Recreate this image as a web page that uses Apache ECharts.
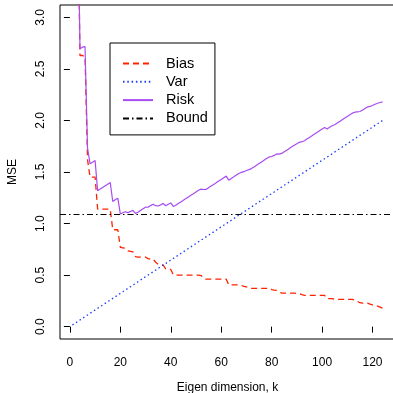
<!DOCTYPE html>
<html>
<head>
<meta charset="utf-8">
<script src="https://cdn.jsdelivr.net/npm/echarts@6/dist/echarts.min.js"></script>
<style>
  html, body { margin: 0; padding: 0; background: #fff; }
  #chart { width: 393px; height: 393px; }
</style>
</head>
<body>
<div id="chart"></div>
<script>
// Eigen dimension k = 1..124
const dims = [];
for (let k = 1; k <= 124; k++) dims.push(k);

const bias = [
  7.50, 5.60, 4.35, 2.63, 2.63, 2.62, 1.62, 1.45, 1.45, 1.45,
  1.14, 1.14, 1.14, 1.14, 1.14, 1.14, 0.94, 0.94, 0.94, 0.77,
  0.765, 0.76, 0.735, 0.73, 0.725, 0.68, 0.675, 0.675, 0.675, 0.675,
  0.658, 0.658, 0.655, 0.625, 0.605, 0.60, 0.598, 0.56, 0.558, 0.555,
  0.505, 0.50, 0.50, 0.50, 0.50, 0.50, 0.50, 0.50, 0.50, 0.50,
  0.50, 0.495, 0.475, 0.46, 0.46, 0.46, 0.46, 0.46, 0.46, 0.46,
  0.46, 0.46, 0.405, 0.405, 0.405, 0.405, 0.405, 0.40, 0.39, 0.385,
  0.378, 0.372, 0.372, 0.372, 0.372, 0.372, 0.372, 0.372, 0.372, 0.36,
  0.355, 0.352, 0.335, 0.325, 0.325, 0.325, 0.325, 0.325, 0.325, 0.322,
  0.32, 0.31, 0.303, 0.303, 0.303, 0.303, 0.303, 0.303, 0.303, 0.303,
  0.303, 0.272, 0.272, 0.272, 0.265, 0.265, 0.265, 0.265, 0.265, 0.265,
  0.265, 0.265, 0.257, 0.245, 0.232, 0.228, 0.228, 0.228, 0.218, 0.21,
  0.205, 0.199, 0.19, 0.18
];

const variance = [
  0.016, 0.032, 0.048, 0.065, 0.081, 0.097, 0.113, 0.129, 0.145, 0.161,
  0.177, 0.194, 0.210, 0.226, 0.242, 0.258, 0.274, 0.290, 0.306, 0.323,
  0.339, 0.355, 0.371, 0.387, 0.403, 0.419, 0.435, 0.452, 0.468, 0.484,
  0.500, 0.516, 0.532, 0.548, 0.565, 0.581, 0.597, 0.613, 0.629, 0.645,
  0.661, 0.677, 0.694, 0.710, 0.726, 0.742, 0.758, 0.774, 0.790, 0.806,
  0.823, 0.839, 0.855, 0.871, 0.887, 0.903, 0.919, 0.935, 0.952, 0.968,
  0.984, 1.000, 1.016, 1.032, 1.048, 1.065, 1.081, 1.097, 1.113, 1.129,
  1.145, 1.161, 1.177, 1.194, 1.210, 1.226, 1.242, 1.258, 1.274, 1.290,
  1.306, 1.323, 1.339, 1.355, 1.371, 1.387, 1.403, 1.419, 1.435, 1.452,
  1.468, 1.484, 1.500, 1.516, 1.532, 1.548, 1.565, 1.581, 1.597, 1.613,
  1.629, 1.645, 1.661, 1.677, 1.694, 1.710, 1.726, 1.742, 1.758, 1.774,
  1.790, 1.806, 1.823, 1.839, 1.855, 1.871, 1.887, 1.903, 1.919, 1.935,
  1.952, 1.968, 1.984, 2.000
];

const risk = [
  7.516, 5.632, 4.398, 2.695, 2.711, 2.717, 1.733, 1.579, 1.595, 1.611,
  1.317, 1.334, 1.350, 1.366, 1.382, 1.398, 1.214, 1.230, 1.246, 1.093,
  1.104, 1.115, 1.106, 1.117, 1.128, 1.099, 1.110, 1.127, 1.143, 1.159,
  1.158, 1.174, 1.187, 1.173, 1.170, 1.181, 1.195, 1.173, 1.187, 1.200,
  1.166, 1.177, 1.194, 1.210, 1.226, 1.242, 1.258, 1.274, 1.290, 1.306,
  1.323, 1.334, 1.330, 1.331, 1.347, 1.363, 1.379, 1.395, 1.412, 1.428,
  1.444, 1.460, 1.421, 1.437, 1.453, 1.470, 1.486, 1.497, 1.503, 1.514,
  1.523, 1.533, 1.549, 1.566, 1.582, 1.598, 1.614, 1.630, 1.646, 1.650,
  1.661, 1.675, 1.674, 1.680, 1.696, 1.712, 1.728, 1.744, 1.760, 1.774,
  1.788, 1.794, 1.803, 1.819, 1.835, 1.851, 1.868, 1.884, 1.900, 1.916,
  1.932, 1.917, 1.933, 1.949, 1.959, 1.975, 1.991, 2.007, 2.023, 2.039,
  2.055, 2.071, 2.080, 2.084, 2.087, 2.099, 2.115, 2.131, 2.137, 2.145,
  2.157, 2.167, 2.174, 2.180
];

const bound = 1.09;

const xTicks = [0, 20, 40, 60, 80, 100, 120];
const yTicks = [0, 0.5, 1, 1.5, 2, 2.5, 3];

const pairs = (ys) => dims.map((k, i) => [k, ys[i]]);

const FONT = '"Liberation Sans", Arial, Helvetica, sans-serif';

const chart = echarts.init(document.getElementById('chart'), null, { renderer: 'canvas' });

chart.setOption({
  animation: false,
  backgroundColor: '#ffffff',
  grid: {
    left: 60, top: 5, right: -2, bottom: 54,
    outerBoundsMode: 'none',
    containLabel: false,
    show: true, borderColor: '#000', borderWidth: 1,
    backgroundColor: 'transparent'
  },
  xAxis: {
    type: 'value',
    min: -3.92, max: 128.92,
    axisLine: { show: false },
    splitLine: { show: false },
    axisTick: { show: true, length: 6, lineStyle: { color: '#000', width: 1 }, customValues: xTicks },
    axisLabel: { show: true, margin: 18, color: '#000', fontSize: 12, fontFamily: FONT, customValues: xTicks },
    name: 'Eigen dimension, k',
    nameLocation: 'middle',
    nameGap: 43,
    nameTextStyle: { color: '#000', fontSize: 12, fontFamily: FONT }
  },
  yAxis: {
    type: 'value',
    min: -0.12, max: 3.12,
    axisLine: { show: false },
    splitLine: { show: false },
    axisTick: { show: true, length: 6, lineStyle: { color: '#000', width: 1 }, customValues: yTicks },
    axisLabel: {
      show: true, rotate: 90, margin: 13, color: '#000', fontSize: 12, fontFamily: FONT,
      customValues: yTicks,
      formatter: (v) => v.toFixed(1)
    },
    name: 'MSE',
    nameLocation: 'middle',
    nameRotate: 90,
    nameGap: 41,
    nameTextStyle: { color: '#000', fontSize: 12, fontFamily: FONT }
  },
  legend: {
    orient: 'vertical',
    left: 110, top: 43,
    padding: [13, 7, 9, 12],
    itemWidth: 30, itemHeight: 14, itemGap: 3.3,
    borderColor: '#000', borderWidth: 1, borderRadius: 0,
    backgroundColor: '#fff',
    selectedMode: false,
    itemStyle: { color: 'transparent', borderColor: 'transparent', borderWidth: 0, opacity: 0 },
    textStyle: { color: '#000', fontSize: 14.5, fontFamily: FONT, lineHeight: 14, padding: [0, 0, 0, 8] },
    data: ['Bias', 'Var', 'Risk', 'Bound']
  },
  series: [
    {
      name: 'Bias', type: 'line', symbol: 'none', data: pairs(bias),
      lineStyle: { color: '#ff2200', width: 1.3, type: [6, 4] },
      itemStyle: { color: '#ff2200' }
    },
    {
      name: 'Var', type: 'line', symbol: 'none', data: pairs(variance),
      lineStyle: { color: '#1a3cff', width: 1.3, type: [1.5, 2.8] },
      itemStyle: { color: '#1a3cff' }
    },
    {
      name: 'Risk', type: 'line', symbol: 'none', data: pairs(risk),
      lineStyle: { color: '#a84cf2', width: 1.2, type: 'solid' },
      itemStyle: { color: '#a84cf2' }
    },
    {
      name: 'Bound', type: 'line', symbol: 'none', data: [],
      lineStyle: { color: '#000', width: 1, type: [6, 3, 1.5, 3] },
      itemStyle: { color: '#000' },
      markLine: {
        silent: true, symbol: 'none',
        label: { show: false },
        lineStyle: { color: '#000', width: 1, type: [6, 3, 1.5, 3] },
        emphasis: { disabled: true },
        data: [{ yAxis: bound }]
      }
    }
  ]
});
</script>
</body>
</html>
